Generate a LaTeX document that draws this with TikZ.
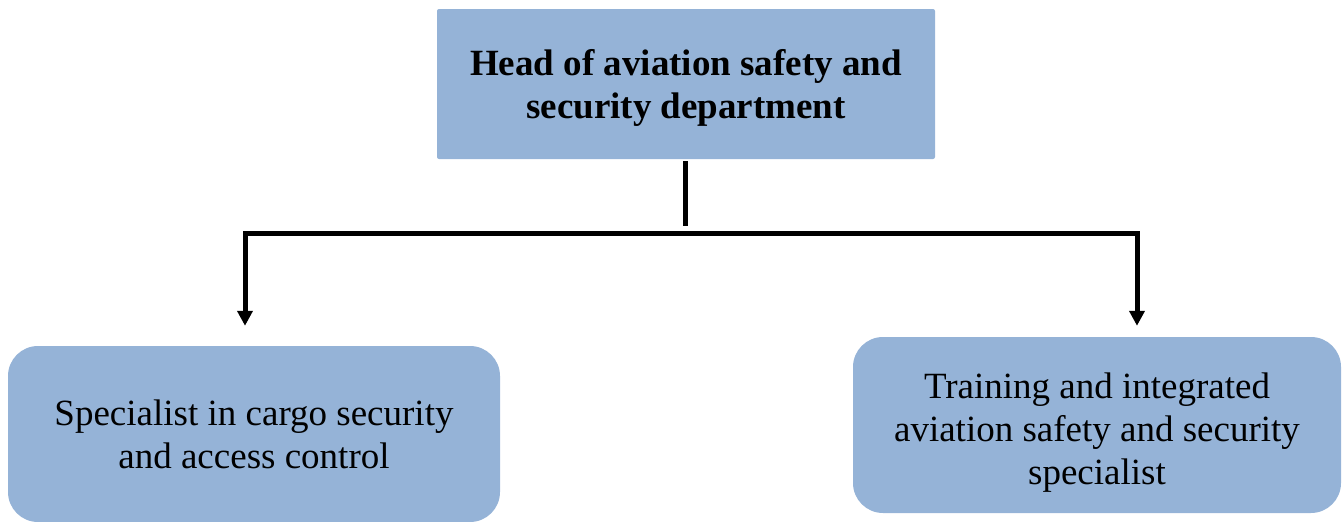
\documentclass[tikz,border=0pt]{standalone}
\usepackage{fontspec}
\setmainfont{Liberation Serif}
\usetikzlibrary{arrows.meta}
\definecolor{boxblue}{HTML}{95B3D7}
% \lift{h}: a strut of height h on the first line, to lower a text block a little
\newcommand{\lift}[1]{\rule{0pt}{#1}}
\tikzset{
  x=1pt, y=-1pt,
  headbox/.style={fill=boxblue, rounded corners=2pt, minimum width=498pt, minimum height=150pt,
    align=center, font=\fontsize{37}{43}\selectfont\bfseries},
  rolebox/.style={fill=boxblue, rounded corners=30pt, minimum height=176pt,
    align=center, font=\fontsize{37}{43}\selectfont},
  bar/.style={line width=5pt, draw=black},
  tip/.style={bar, -{Triangle[width=15pt,length=15pt]}}
}
\begin{document}
\begin{tikzpicture}
\useasboundingbox (0,0) rectangle (1342,522);
\node[headbox] (head) at (686,84) {\lift{34pt}Head of aviation safety and\\security department};
\node[rolebox, minimum width=492pt] (cargo) at (254,434) {Specialist in cargo security\\and access control};
\node[rolebox, minimum width=488pt] (train) at (1097,425) {\lift{40pt}Training and integrated\\aviation safety and security\\specialist};
\coordinate (stem) at (685,226);
\coordinate (busL) at (245,233);
\coordinate (busR) at (1137,233);
\draw[bar] ([yshift=-2pt]head.south -| stem) -- (stem);
\draw[bar, line cap=rect] (busL) -- (busR);
\draw[tip, shorten >=20pt] (busL) -- (cargo.north -| busL);
\draw[tip, shorten >=11pt] (busR) -- (train.north -| busR);
\end{tikzpicture}
\end{document}
